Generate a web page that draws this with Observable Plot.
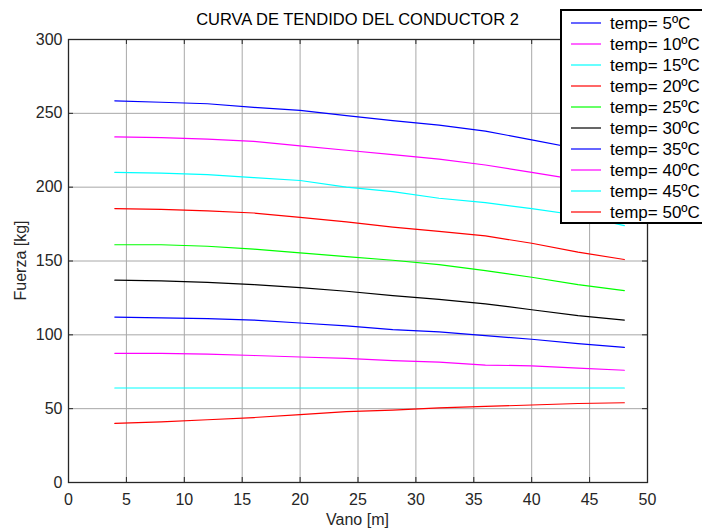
<!DOCTYPE html>
<html><head><meta charset="utf-8">
<script src="https://cdn.jsdelivr.net/npm/d3@7"></script>
<script src="https://cdn.jsdelivr.net/npm/@observablehq/plot@0.6"></script>
<style>body{margin:0;background:#fff;} #chart svg{overflow:hidden;display:block}</style>
</head><body><div id="chart"></div>
<script>
const vano = [4, 8, 12, 16, 20, 24, 28, 32, 36, 40, 44, 48];
const tempLabels = ["temp= 5ºC","temp= 10ºC","temp= 15ºC","temp= 20ºC","temp= 25ºC","temp= 30ºC","temp= 35ºC","temp= 40ºC","temp= 45ºC","temp= 50ºC"];
const t5  = [258.5, 257.5, 256.5, 254, 252, 248.5, 245, 242, 238, 232, 226, 219];
const t10 = [234, 233.5, 232.5, 231, 228, 225, 222, 219, 215, 210, 205, 199];
const t15 = [210, 209.5, 208.5, 206.5, 204.5, 200, 197, 192.5, 189.5, 185.5, 181, 174];
const t20 = [185.5, 185, 184, 182.5, 179.5, 176.5, 173, 170, 167, 162, 156, 151];
const t25 = [161, 161, 160, 158, 155.5, 153, 150.5, 147.5, 143.5, 139, 134, 130];
const t30 = [137, 136.5, 135.5, 134, 132, 129.5, 126.5, 124, 121, 117, 113, 110];
const t35 = [112, 111.5, 111, 110, 108, 106, 103.5, 102, 99.5, 97, 94, 91.5];
const t40 = [87.5, 87.5, 87, 86, 85, 84, 82.5, 81.5, 79.5, 79, 77.5, 76];
const t45 = [64, 64, 64, 64, 64, 64, 64, 64, 64, 64, 64, 64];
const t50 = [40, 41, 42.5, 44, 46, 48, 49, 50.5, 51.5, 52.5, 53.5, 54];
const series = [t5, t10, t15, t20, t25, t30, t35, t40, t45, t50];
const colors = ["#0000ff","#ff00ff","#00ffff","#ff0000","#00ff00","#000000","#0000ff","#ff00ff","#00ffff","#ff0000"];
const xTicks = [0, 5, 10, 15, 20, 25, 30, 35, 40, 45, 50];
const yTicks = [0, 50, 100, 150, 200, 250, 300];

const W = 702, H = 528, mL = 68, mR = 55, mT = 39, mB = 46;
const fH = H - mT - mB, fW = W - mL - mR, tk = 5;
const font = "Liberation Sans, Arial, sans-serif";

const rows = [];
series.forEach((s, i) => s.forEach((v, j) => rows.push({k: i, x: vano[j], y: v})));

const marks = [
  Plot.gridX(xTicks, {stroke: "#a8a8a8", strokeOpacity: 1, strokeWidth: 1}),
  Plot.gridY(yTicks, {stroke: "#a8a8a8", strokeOpacity: 1, strokeWidth: 1}),
  Plot.tickX(xTicks, {x: d => d, stroke: "#262626", insetTop: fH - tk}),
  Plot.tickX(xTicks, {x: d => d, stroke: "#262626", insetBottom: fH - tk}),
  Plot.tickY(yTicks, {y: d => d, stroke: "#262626", insetRight: fW - tk}),
  Plot.tickY(yTicks, {y: d => d, stroke: "#262626", insetLeft: fW - tk}),
  ...series.map((s, i) => Plot.line(rows.filter(r => r.k === i), {x: "x", y: "y", stroke: colors[i], strokeWidth: 1.2})),
  Plot.axisX(xTicks, {tickSize: 0, tickPadding: 11, label: null, fontSize: 16, fill: "#262626"}),
  Plot.axisY(yTicks, {tickSize: 0, tickPadding: 6, label: null, fontSize: 16, fill: "#262626"}),
  Plot.frame({stroke: "#262626", strokeWidth: 1.3})
];

const plot = Plot.plot({
  width: W, height: H,
  marginLeft: mL, marginRight: mR, marginTop: mT, marginBottom: mB,
  style: {fontFamily: font, background: "#fff", color: "#262626"},
  x: {domain: [0, 50]},
  y: {domain: [0, 300]},
  marks
});
document.getElementById("chart").appendChild(plot);

const svg = d3.select(plot);
svg.append("text").attr("x", mL + fW / 2).attr("y", 25).attr("text-anchor", "middle")
  .attr("font-size", 16.5).attr("font-family", font).attr("fill", "#000").text("CURVA DE TENDIDO DEL CONDUCTOR 2");
svg.append("text").attr("x", mL + fW / 2).attr("y", 525).attr("text-anchor", "middle")
  .attr("font-size", 16).attr("font-family", font).attr("fill", "#262626").text("Vano [m]");
svg.append("text").attr("transform", `translate(26,${mT + fH / 2}) rotate(-90)`).attr("text-anchor", "middle")
  .attr("font-size", 16).attr("font-family", font).attr("fill", "#262626").text("Fuerza [kg]");

const lg = svg.append("g").attr("transform", "translate(561,10)");
lg.append("rect").attr("width", 170).attr("height", 213).attr("fill", "#fff").attr("stroke", "#000").attr("stroke-width", 2);
tempLabels.forEach((t, i) => {
  const y = 13 + 21 * i;
  lg.append("line").attr("x1", 10).attr("x2", 40).attr("y1", y).attr("y2", y).attr("stroke", colors[i]).attr("stroke-width", 1.2);
  lg.append("text").attr("x", 49).attr("y", y).attr("dy", "0.36em").attr("font-size", 17)
    .attr("text-anchor", "start").attr("font-family", font).attr("fill", "#000").text(t);
});
</script></body></html>
